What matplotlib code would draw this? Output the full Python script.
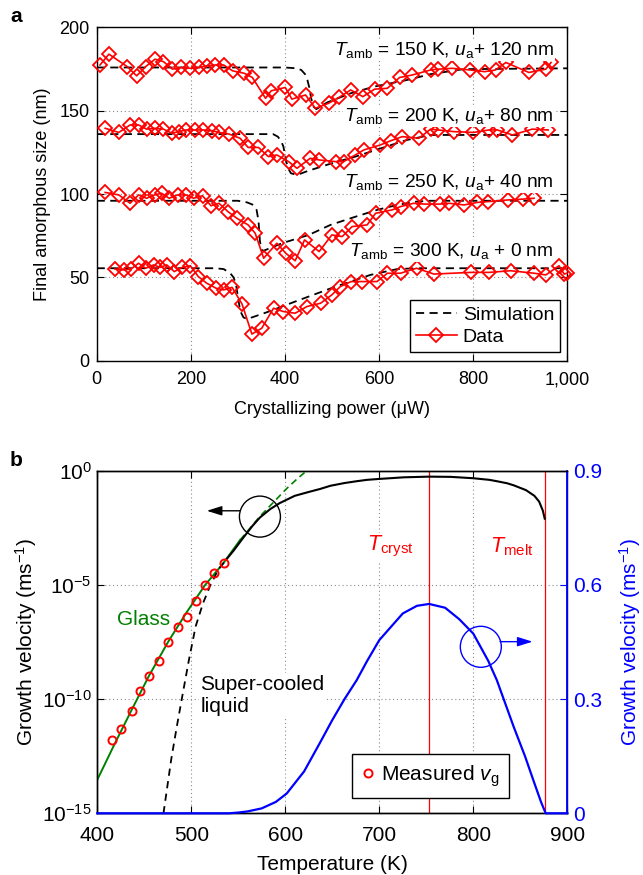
import numpy as np
import matplotlib
matplotlib.use('Agg')
import matplotlib.pyplot as plt
from matplotlib.patches import Ellipse
from matplotlib.lines import Line2D
from matplotlib.ticker import NullLocator, FixedLocator

plt.rcParams['font.family'] = ['Liberation Sans', 'DejaVu Sans']
plt.rcParams['mathtext.fontset'] = 'custom'
plt.rcParams['mathtext.rm'] = 'Liberation Sans'
plt.rcParams['mathtext.it'] = 'Liberation Sans:italic'
plt.rcParams['mathtext.bf'] = 'Liberation Sans:bold'
plt.rcParams['font.size'] = 13
plt.rcParams['axes.linewidth'] = 1.0

# ---------------- Panel a data ----------------
P150 = [7, 26, 65, 85, 104, 124, 142, 161, 180, 199, 218, 234, 251, 270, 289, 314, 331, 359, 371, 401, 415,
        444, 465, 493, 515, 540, 566, 591, 618, 644, 671, 710, 726, 756, 794, 825, 848, 870, 919, 955, 966]
V150 = [177.5, 184, 176.5, 171, 176.5, 181, 179.5, 175, 176, 175.5, 176, 177, 177.5, 177.5, 174, 172.5, 170,
        157.5, 162, 164, 157, 159.5, 151.5, 154.5, 158, 162.5, 158.5, 163, 163.5, 170, 171.5, 174.5, 175,
        175.5, 174.5, 173.5, 174.5, 179, 173, 175, 179]

P200 = [18, 47, 71, 89, 106, 124, 142, 160, 174, 190, 209, 227, 246, 260, 282, 305, 322, 344, 365, 383, 408,
        426, 454, 473, 508, 525, 550, 568, 603, 625, 650, 685, 710, 726, 760, 801, 834, 852, 884, 926, 960]
V200 = [139.5, 137, 141.5, 141.5, 139, 139.5, 139, 136.5, 137.5, 138.5, 138.5, 138.5, 138, 137, 136, 133.5,
        128, 128, 122.5, 123.5, 119.5, 115.5, 121.5, 120.5, 119.5, 119.5, 123.5, 126.5, 129.5, 132, 134.5,
        133.5, 139, 138.5, 137.5, 137, 138.5, 138.5, 135.5, 139, 138.5]

P250 = [18, 47, 71, 89, 106, 123, 138, 154, 172, 190, 206, 225, 243, 260, 279, 298, 322, 337, 355, 383, 402,
        422, 442, 473, 500, 522, 543, 575, 593, 628, 646, 674, 697, 730, 749, 781, 809, 832, 875, 907, 930]
V250 = [101, 99.5, 94.5, 99.5, 97.5, 99.5, 100.5, 97.5, 99.5, 99.5, 97.5, 99, 93, 94.5, 89.5, 85.5, 81.5,
        76.5, 61.5, 70.5, 64.5, 60, 72.5, 65.5, 75.5, 74.5, 80.5, 81.5, 88.5, 90.5, 92.5, 94.5, 94, 94, 94.5,
        93.5, 95, 95.5, 96.5, 97, 97.5]

P300 = [39, 57, 73, 89, 104, 121, 135, 149, 165, 182, 199, 216, 234, 254, 270, 288, 309, 330, 351, 376, 397,
        422, 447, 476, 500, 518, 541, 564, 596, 618, 646, 680, 717, 795, 834, 880, 930, 955, 983, 994, 1000]
V300 = [55, 54.5, 55, 58.5, 55.5, 57.5, 56, 57.5, 53.5, 56, 57, 50.5, 46.5, 43.5, 42.5, 44, 34, 16, 19.5,
        31.5, 29.5, 28.5, 32.5, 34.5, 39.5, 44.5, 47.5, 47.5, 47.5, 52.5, 52.5, 55.5, 52, 53, 53, 54, 52.5,
        51.5, 57, 52, 52.5]

S150_P = [0, 400, 425, 435, 443, 448, 452, 456, 461, 467, 490, 540, 590, 660, 710, 780, 1000]
S150_V = [176, 176, 175.5, 174.5, 172, 168.5, 164, 157.5, 152.5, 151, 155, 160.5, 164.5, 168.5, 172, 175, 175.5]
S200_P = [0, 375, 385, 392, 397, 400, 403, 408, 413, 426, 450, 500, 550, 610, 660, 710, 1000]
S200_V = [136, 136, 134.5, 132, 128.5, 124, 119.5, 115, 112.5, 111.5, 114, 118.5, 122.5, 128, 132.5, 135.5, 135.5]
S250_P = [0, 300, 320, 333, 340, 344, 347, 350, 355, 394, 451, 497, 540, 596, 639, 680, 710, 1000]
S250_V = [96, 96, 95, 93.5, 90.5, 84, 72, 66.5, 66, 70.5, 75.5, 81.5, 85.5, 90.5, 93.5, 95.5, 96, 96]
S300_P = [0, 252, 270, 284, 291, 296, 300, 305, 312, 320, 366, 422, 508, 540, 582, 639, 680, 1000]
S300_V = [55.5, 55.5, 55, 52.5, 50, 46, 39, 30, 26, 25, 29.5, 35.5, 44.5, 47.5, 51.5, 55, 55.5, 55.5]

a_xticks = [0, 200, 400, 600, 800, 1000]
a_xticklabels = ['0', '200', '400', '600', '800', '1,000']
a_yticks = [0, 50, 100, 150, 200]

labels_a = [r"$T_{\rm amb}$ = 150 K, $u_{\rm a}$+ 120 nm",
            r"$T_{\rm amb}$ = 200 K, $u_{\rm a}$+ 80 nm",
            r"$T_{\rm amb}$ = 250 K, $u_{\rm a}$+ 40 nm",
            r"$T_{\rm amb}$ = 300 K, $u_{\rm a}$ + 0 nm"]
label_a_y = [183.5, 143.9, 104.4, 62.8]

# ---------------- Panel b data ----------------
T_meas = [416.1, 425.7, 436.4, 445.7, 455.4, 466.1, 475.4, 485.7, 495.4, 504.6, 514.6, 524.3, 534.6]
logv_meas = [-11.79, -11.30, -10.50, -9.64, -8.97, -8.35, -7.49, -6.84, -6.41, -5.69, -5.01, -4.49, -4.02]

T_glass = [400, 418, 436.1, 455, 475.4, 495, 514.6, 534.6, 552]
logv_glass = [-13.53, -12.0, -10.51, -8.98, -7.49, -6.2, -5.01, -4.02, -3.03]
T_glass_ext = [552, 573, 587, 601.5, 612, 622.8]
logv_glass_ext = [-3.03, -2.0, -1.4, -0.78, -0.38, 0.0]

T_scl = [470.4, 474, 478.6, 484.6, 491, 497.5, 504.6, 512.5, 520.4, 528.6, 538]
logv_scl = [-15, -13.97, -12.65, -11.2, -9.74, -8.28, -6.82, -5.80, -5.0, -4.34, -3.85]

T_cryst_curve = [538, 545, 555, 565, 573, 584, 594, 610, 625, 637, 648, 663, 676, 687, 700, 726, 753, 776,
                 800, 817, 825, 836, 843, 856, 865, 870, 874, 876]
logv_cryst_curve = [-3.85, -3.5, -2.95, -2.42, -2.05, -1.68, -1.42, -1.10, -0.93, -0.80, -0.66, -0.54, -0.46,
                    -0.40, -0.36, -0.29, -0.26, -0.27, -0.33, -0.40, -0.46, -0.55, -0.64, -0.85, -1.1, -1.35,
                    -1.75, -2.1]

T_lin = [400, 540, 550, 560, 575, 590, 601.5, 620, 636.6, 650, 663, 676, 687, 700, 725, 740, 753, 770, 785,
         800, 816, 825, 843, 855, 865, 872, 877, 900]
v_lin = [0, 0, 0.002, 0.005, 0.013, 0.03, 0.052, 0.11, 0.184, 0.245, 0.30, 0.35, 0.40, 0.455, 0.525, 0.545,
         0.55, 0.54, 0.51, 0.472, 0.40, 0.35, 0.227, 0.15, 0.079, 0.03, 0, 0]

T_cryst = 753
T_melt = 876
b_xticks = [400, 500, 600, 700, 800, 900]
b_yticks = [1e-15, 1e-10, 1e-5, 1e0]
b_rticks = [0, 0.3, 0.6, 0.9]

# ---------------- Figure ----------------
W, H = 643, 875
fig = plt.figure(figsize=(W / 100, H / 100), dpi=100)

def rect(l, r, t, b):
    return [l / W, 1 - b / H, (r - l) / W, (b - t) / H]

RED = '#ff0000'
GREEN = '#008000'
BLUE = '#0000ff'
grid_kw = dict(color='#8c8c8c', linestyle=(0, (1, 2.5)), linewidth=0.8)

# ---------- Panel a ----------
FA = 13
axa = fig.add_axes(rect(96.7, 567, 27.5, 360.7))
dash = (0, (4.5, 3))
for sp, sv in [(S150_P, S150_V), (S200_P, S200_V), (S250_P, S250_V), (S300_P, S300_V)]:
    axa.plot(sp, sv, color='black', linestyle=dash, lw=1.3, zorder=3)
for dp, dv in [(P150, V150), (P200, V200), (P250, V250), (P300, V300)]:
    axa.plot(dp, dv, color=RED, lw=1.2, marker='D', markersize=6.8, mfc='none', mec=RED, mew=1.3,
             zorder=4, clip_on=False)
axa.set_xlim(0, 1000)
axa.set_ylim(0, 200)
axa.set_xticks(a_xticks)
axa.set_xticklabels(a_xticklabels)
axa.set_yticks(a_yticks)
axa.tick_params(direction='in', top=True, right=True, length=5, width=0.8, labelsize=FA)
axa.tick_params(axis='x', pad=7.5)
axa.tick_params(axis='y', pad=5)
axa.grid(True, **grid_kw)
axa.set_axisbelow(True)
axa.set_xlabel('Crystallizing power (\u03bcW)', labelpad=9, fontsize=FA)
axa.set_ylabel('Final amorphous size (nm)', labelpad=6, fontsize=FA)
for lab, yy in zip(labels_a, label_a_y):
    axa.text(972, yy, lab, ha='right', va='baseline', fontsize=13.8, zorder=5,
             bbox=dict(facecolor='white', edgecolor='none', pad=0.5))
h_sim = Line2D([], [], color='black', linestyle=dash, lw=1.3)
h_dat = Line2D([], [], color=RED, lw=1.2, marker='D', markersize=6.8, mfc='none', mec=RED, mew=1.3)
lega = axa.legend([h_sim, h_dat], ['Simulation', 'Data'], loc='lower right',
                  bbox_to_anchor=(0.985, 0.026), fancybox=False, edgecolor='black', framealpha=1,
                  fontsize=14, handlelength=2.1, handletextpad=0.3, borderpad=0.3, labelspacing=0.25,
                  borderaxespad=0)
lega.get_frame().set_linewidth(1.0)
lega.set_zorder(10)

fig.text(10 / W, 1 - 17 / H, 'a', fontsize=15, fontweight='bold', va='center', ha='left')

# ---------- Panel b ----------
FB = 15
axb = fig.add_axes(rect(97.3, 567.3, 470.7, 813.3))
axb.set_yscale('log')
axb.plot(T_glass, 10.0 ** np.array(logv_glass), color=GREEN, lw=1.4, zorder=3)
axb.plot(T_glass_ext, 10.0 ** np.array(logv_glass_ext), color=GREEN, lw=1.2, linestyle=(0, (4, 2.5)), zorder=3)
axb.plot(T_scl, 10.0 ** np.array(logv_scl), color='black', lw=1.3, linestyle=(0, (4, 3)), zorder=3)
axb.plot(T_cryst_curve, 10.0 ** np.array(logv_cryst_curve), color='black', lw=1.5, zorder=4)
axb.plot(T_meas, 10.0 ** np.array(logv_meas), linestyle='none', marker='o', markersize=5.8, mfc='none',
         mec=RED, mew=1.4, zorder=5, clip_on=False)
axb.axvline(T_cryst, color=RED, lw=0.9, zorder=2)
axb.axvline(T_melt, color=RED, lw=0.9, zorder=2)
axb.set_xlim(400, 900)
axb.set_ylim(1e-15, 1e0)
axb.set_xticks(b_xticks)
axb.yaxis.set_major_locator(FixedLocator(b_yticks))
axb.yaxis.set_minor_locator(NullLocator())
axb.tick_params(direction='in', top=True, right=False, length=5, width=0.8, labelsize=FB)
axb.tick_params(axis='x', pad=9.5)
axb.tick_params(axis='y', pad=4)
axb.grid(True, **grid_kw)
axb.set_axisbelow(True)
axb.set_xlabel('Temperature (K)', labelpad=6.5, fontsize=FB)
axb.set_ylabel('Growth velocity (ms$^{-1}$)', labelpad=2, fontsize=FB)

ax2 = axb.twinx()
ax2.plot(T_lin, v_lin, color=BLUE, lw=1.6, zorder=3, clip_on=False)
ax2.set_ylim(0, 0.9)
ax2.set_yticks(b_rticks)
ax2.set_yticklabels(['0', '0.3', '0.6', '0.9'])
ax2.tick_params(axis='y', direction='in', length=5, width=0.8, colors=BLUE, pad=4, labelsize=FB)
ax2.spines['right'].set_color(BLUE)
ax2.spines['right'].set_linewidth(1.3)
ax2.set_ylabel('Growth velocity (ms$^{-1}$)', color=BLUE, labelpad=11, fontsize=FB)

bb = dict(facecolor='white', edgecolor='none', pad=1)
axb.text(0.098, 0.566, 'Glass', transform=axb.transAxes, color=GREEN, ha='center', va='center',
         fontsize=FB, bbox=bb, zorder=6)
axb.text(0.219, 0.344, 'Super-cooled\nliquid', transform=axb.transAxes, color='black', ha='left',
         va='center', fontsize=FB, linespacing=1.22, bbox=bb, zorder=6)
axb.text(0.624, 0.778, r'$T_{\rm cryst}$', transform=axb.transAxes, color=RED, ha='center', va='center',
         fontsize=15.5, bbox=bb, zorder=6)
axb.text(0.882, 0.778, r'$T_{\rm melt}$', transform=axb.transAxes, color=RED, ha='center', va='center',
         fontsize=15.5, bbox=bb, zorder=6)

# circles + arrows (in axes coordinates, circular in pixels)
aw, ah = 470.0, 342.6
r = 20.5
c1 = Ellipse((0.346, 0.866), 2 * r / aw, 2 * r / ah, transform=axb.transAxes, fill=False,
             edgecolor='black', lw=1.0, zorder=7, clip_on=False)
axb.add_patch(c1)
axb.annotate('', xy=(0.233, 0.883), xytext=(0.304, 0.883), xycoords='axes fraction',
             arrowprops=dict(arrowstyle='-|>,head_length=0.7,head_width=0.22', color='black', lw=1.0,
                             shrinkA=0, shrinkB=0), zorder=7)
c2 = Ellipse((0.816, 0.486), 2 * r / aw, 2 * r / ah, transform=axb.transAxes, fill=False,
             edgecolor=BLUE, lw=1.0, zorder=7, clip_on=False)
axb.add_patch(c2)
axb.annotate('', xy=(0.926, 0.501), xytext=(0.857, 0.501), xycoords='axes fraction',
             arrowprops=dict(arrowstyle='-|>,head_length=0.7,head_width=0.22', color=BLUE, lw=1.0,
                             shrinkA=0, shrinkB=0), zorder=7)

h_meas = Line2D([], [], linestyle='none', marker='o', markersize=5.8, mfc='none', mec=RED, mew=1.4)
legb = axb.legend([h_meas], [r'Measured $v_{\rm g}$'], loc='lower right', bbox_to_anchor=(0.876, 0.045),
                  fancybox=False, edgecolor='black', framealpha=1, fontsize=FB, handlelength=0.6,
                  handletextpad=0.35, borderpad=0.45, borderaxespad=0)
legb.get_frame().set_linewidth(1.0)
legb.set_zorder(10)

fig.text(10 / W, 1 - 460 / H, 'b', fontsize=15, fontweight='bold', va='center', ha='left')

fig.savefig('out.png', dpi=100)
